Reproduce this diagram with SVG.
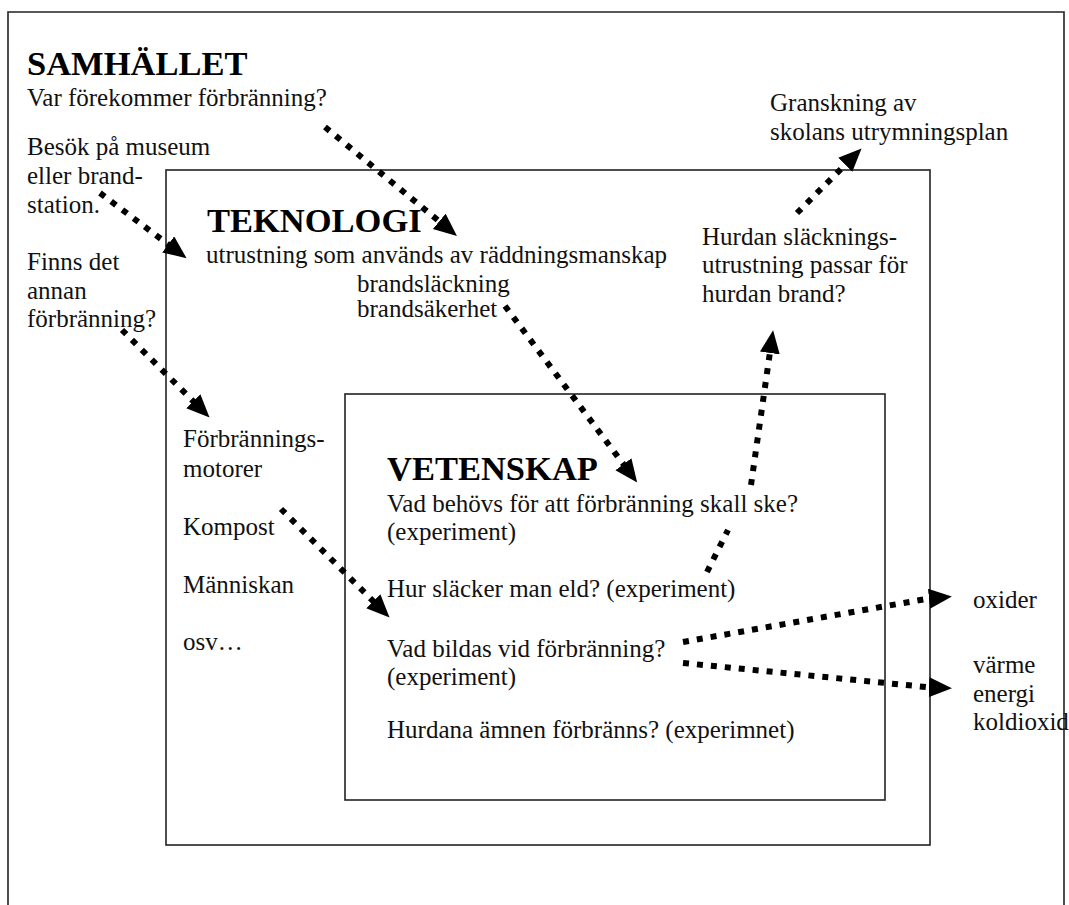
<svg xmlns="http://www.w3.org/2000/svg" width="1069" height="905" viewBox="0 0 1069 905">
<style>
.t{font-family:"Liberation Serif","Times New Roman",serif;font-size:25px;fill:#111}
.h{font-family:"Liberation Serif","Times New Roman",serif;font-size:34.5px;font-weight:bold;fill:#000}
.box{fill:none;stroke:#222;stroke-width:1.6}
.con{fill:none;stroke:#000;stroke-width:6;stroke-dasharray:6 8}
</style>
<defs>
<marker id="ah" markerUnits="userSpaceOnUse" markerWidth="24" markerHeight="22" refX="1" refY="10" orient="auto">
<path d="M0,0 L23,10 L0,20 z" fill="#000"/>
</marker>
</defs>
<rect width="1069" height="905" fill="#fff"/>
<g id="samhallet">
<path class="box" d="M8,905 V12 H1064 V905"/>
<text class="h" x="27" y="75">SAMHÄLLET</text>
<text class="t" x="27" y="106">Var förekommer förbränning?</text>
<text class="t" x="27" y="155">Besök på museum</text>
<text class="t" x="27" y="184">eller brand-</text>
<text class="t" x="27" y="213">station.</text>
<text class="t" x="27" y="270">Finns det</text>
<text class="t" x="27" y="299">annan</text>
<text class="t" x="27" y="327">förbränning?</text>
<text class="t" x="770" y="111">Granskning av</text>
<text class="t" x="770" y="140">skolans utrymningsplan</text>
<text class="t" x="973" y="608">oxider</text>
<text class="t" x="973" y="673">värme</text>
<text class="t" x="973" y="702">energi</text>
<text class="t" x="973" y="730">koldioxid</text>
</g>
<g id="teknologi">
<rect class="box" x="166" y="170" width="764" height="675"/>
<text class="h" x="207" y="232">TEKNOLOGI</text>
<text class="t" x="206" y="263">utrustning som används av räddningsmanskap</text>
<text class="t" x="357" y="292">brandsläckning</text>
<text class="t" x="357" y="317">brandsäkerhet</text>
<text class="t" x="702" y="245">Hurdan släcknings-</text>
<text class="t" x="702" y="273">utrustning passar för</text>
<text class="t" x="702" y="302">hurdan brand?</text>
<text class="t" x="183" y="447">Förbrännings-</text>
<text class="t" x="183" y="477">motorer</text>
<text class="t" x="183" y="535">Kompost</text>
<text class="t" x="183" y="593">Människan</text>
<text class="t" x="183" y="650">osv…</text>
</g>
<g id="vetenskap">
<rect class="box" x="345" y="394" width="540" height="406"/>
<text class="h" x="387" y="480">VETENSKAP</text>
<text class="t" x="387" y="512">Vad behövs för att förbränning skall ske?</text>
<text class="t" x="387" y="540">(experiment)</text>
<text class="t" x="387" y="597">Hur släcker man eld? (experiment)</text>
<text class="t" x="387" y="657">Vad bildas vid förbränning?</text>
<text class="t" x="387" y="685">(experiment)</text>
<text class="t" x="387" y="738">Hurdana ämnen förbränns? (experimnet)</text>
</g>
<g id="connectors">
<path class="con" d="M325,127 L440,222" marker-end="url(#ah)"/>
<path class="con" d="M100,193 L169,245" marker-end="url(#ah)"/>
<path class="con" d="M122,330 L194,402" marker-end="url(#ah)"/>
<path class="con" d="M505,306 L624,465" marker-end="url(#ah)"/>
<path class="con" d="M281,509 L374,602" marker-end="url(#ah)"/>
<path class="con" d="M707,572 L728,530 M751,485 L770,352" marker-end="url(#ah)"/>
<path class="con" d="M797,213 L846,164" marker-end="url(#ah)"/>
<path class="con" d="M683,642 L926,599 L930,598.6" marker-end="url(#ah)"/>
<path class="con" d="M683,663 L926,687 L930,687.2" marker-end="url(#ah)"/>
</g>
</svg>
